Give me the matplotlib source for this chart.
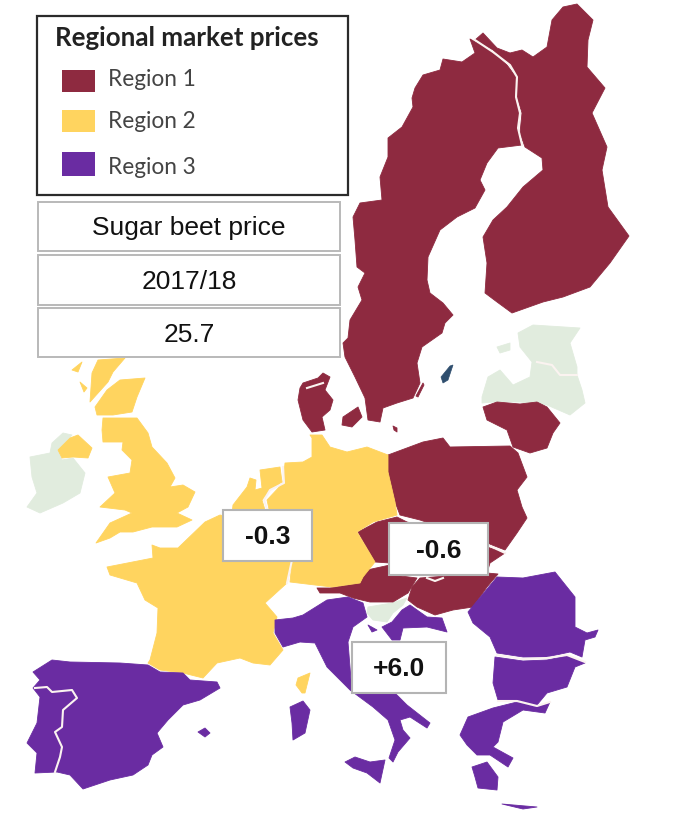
import matplotlib
matplotlib.use("Agg")
import matplotlib.pyplot as plt
from matplotlib.patches import Polygon, Rectangle

# Outlines (image pixel units)
sweden = [(470,39),(475,53),(462,62),(443,59),(440,70),(423,75),(415,88),(412,98),(413,107),(402,127),(388,138),(388,157),(380,177),(382,200),(360,203),(353,217),(355,240),(357,267),(365,273),(358,287),(362,300),(350,320),(348,338),(343,343),(345,357),(355,377),(365,398),(368,420),(380,422),(383,408),(397,403),(413,398),(420,383),(417,363),(422,347),(442,333),(445,323),(453,315),(443,303),(430,293),(427,280),(428,257),(440,230),(457,217),(475,208),(485,190),(480,180),(487,163),(498,148),(522,145),(518,128),(520,113),(515,97),(516,77),(507,65),(490,50)]
finland = [(475,40),(483,33),(497,48),(510,53),(522,50),(533,57),(547,47),(552,20),(563,7),(577,4),(593,20),(588,40),(587,67),(605,88),(592,113),(607,147),(602,170),(608,207),(629,236),(610,263),(590,287),(563,297),(543,302),(512,313),(497,302),(485,293),(487,263),(483,237),(493,220),(507,207),(523,187),(543,170),(542,158),(525,147),(520,133),(522,113),(517,97),(517,77),(510,65),(493,50)]
jutland = [(300,388),(303,383),(318,378),(323,373),(330,377),(325,390),(333,400),(330,410),(322,417),(325,430),(312,432),(303,420),(298,400)]
zealand = [(343,417),(358,407),(362,417),(352,427),(342,425)]
bornholm = [(393,426),(397,428),(397,432),(394,430)]
oland = [(423,383),(424,385),(418,397),(416,396)]
lithuania = [(483,407),(497,402),(520,404),(537,402),(547,407),(560,423),(553,433),(547,448),(530,453),(513,447),(507,430),(487,420)]
poland = [(388,455),(423,442),(443,438),(450,447),(510,446),(518,453),(527,477),(517,490),(522,507),(527,518),(517,533),(505,550),(487,543),(420,520),(400,515),(395,502),(388,472)]
czechia = [(358,532),(377,522),(397,517),(407,522),(440,530),(440,560),(390,563),(375,562)]
slovakia = [(440,525),(487,547),(505,553),(490,563),(487,573),(440,575)]
hungary = [(412,587),(420,578),(487,573),(498,574),(487,587),(473,607),(453,610),(435,615),(417,607),(408,600)]
austria = [(317,588),(330,588),(360,583),(367,570),(390,565),(393,575),(417,578),(408,593),(393,602),(370,602),(353,598),(340,593),(320,593)]

scotland_north = [(98,360),(125,358),(113,372),(108,382),(90,402),(92,373)]
scotland = [(95,407),(107,390),(120,380),(145,378),(137,397),(132,412),(113,415),(97,415)]
england = [(103,418),(137,418),(148,433),(152,447),(167,463),(175,478),(170,487),(183,485),(195,492),(188,507),(177,513),(192,520),(177,527),(152,527),(133,532),(120,532),(110,538),(96,543),(110,523),(132,513),(125,510),(100,507),(115,493),(108,477),(130,473),(132,460),(122,450),(123,442),(103,442),(102,430)]
hebrides = [(72,370),(82,362),(78,372)]
skye = [(80,382),(87,388),(84,392)]
n_ireland = [(58,450),(70,438),(78,435),(92,448),(88,458),(73,457),(62,458)]
france = [(107,567),(153,558),(152,545),(160,548),(178,548),(205,522),(220,515),(273,527),(292,563),(287,583),(265,603),(277,617),(273,633),(283,650),(270,665),(253,663),(240,658),(217,663),(203,678),(183,673),(160,670),(148,663),(150,660),(157,633),(158,608),(145,600),(137,583),(110,575)]
germany = [(310,435),(322,435),(330,447),(347,452),(367,447),(388,455),(388,472),(395,502),(397,515),(373,522),(357,532),(375,562),(363,577),(360,583),(332,587),(315,585),(290,582),(292,563),(273,527),(267,500),(283,483),(285,463),(303,462),(312,457),(312,438)]
benelux = [(233,505),(247,487),(250,478),(256,480),(255,490),(262,488),(260,470),(280,467),(282,482),(270,490),(262,500),(265,510),(270,530),(230,530)]
corsica = [(298,678),(310,673),(305,693),(302,693),(296,685)]

italy = [(275,620),(293,618),(303,615),(327,600),(348,597),(363,603),(367,617),(353,627),(348,642),(352,692),(395,693),(407,705),(430,723),(427,728),(410,717),(400,720),(403,730),(410,738),(398,752),(393,762),(389,758),(395,740),(388,720),(373,707),(350,690),(327,667),(315,643),(300,642),(283,647),(275,633)]
sicily = [(345,762),(355,757),(370,762),(385,760),(380,783),(367,773),(353,768)]
sardinia = [(290,707),(303,701),(310,710),(305,733),(293,740),(292,723)]
croatia = [(402,610),(410,605),(427,617),(442,618),(447,632),(427,627),(403,628),(400,640),(392,640),(382,627),(392,622)]
istria = [(368,625),(377,630),(372,632)]
romania = [(468,612),(497,577),(523,578),(555,572),(575,597),(575,627),(587,633),(598,630),(595,637),(585,640),(582,657),(570,652),(547,657),(523,657),(497,653),(490,637),(473,623)]
bulgaria = [(495,657),(523,661),(547,660),(567,656),(585,663),(575,667),(567,687),(547,693),(537,705),(517,700),(498,700),(493,683)]
greece = [(460,735),(468,717),(493,708),(517,702),(537,707),(550,702),(545,713),(523,710),(503,722),(498,742),(493,747),(513,758),(508,767),(490,755),(477,755),(467,745)]
peloponnese = [(472,767),(487,762),(498,777),(497,790),(478,788),(475,777)]
crete = [(502,804),(537,807),(523,809)]
iberia = [(33,672),(52,660),(70,662),(120,663),(148,665),(160,672),(183,673),(190,680),(217,682),(220,688),(200,700),(183,705),(168,720),(157,733),(163,747),(152,755),(148,765),(133,775),(110,780),(83,789),(70,775),(57,772),(35,773),(37,753),(27,743),(37,723),(40,697),(33,688),(40,680)]
mallorca = [(198,732),(205,728),(210,733),(205,737)]

baltics = [(518,333),(533,325),(580,328),(570,343),(577,367),(577,375),(582,390),(585,403),(570,415),(547,405),(520,402),(493,402),(482,403),(482,397),(488,377),(500,370),(513,385),(530,377),(532,362),(520,347)]
saaremaa = [(497,347),(510,343),(510,350),(500,353)]
ireland = [(30,457),(50,453),(52,443),(63,433),(72,435),(58,450),(62,460),(73,458),(85,473),(80,493),(63,503),(40,513),(27,507),(37,493),(32,477)]
slovenia = [(368,607),(392,603),(407,598),(403,605),(393,613),(387,622),(373,620),(367,613)]
gotland = [(441,377),(450,366),(453,365),(448,380),(443,383)]

finland_border = [(475,40),(493,52),(510,65),(517,77),(516,97),(520,113),(518,128),(522,145)]
portugal_border = [(35,688),(47,687),(52,692),(72,690),(77,698),(63,710),(62,727),(55,732),(62,747),(60,757),(55,772)]
netherlands_border = [(283,467),(284,483),(270,490),(264,500),(268,512)]
france_border = [(292,560),(287,583)]
baltic_border = [(537,362),(552,365),(560,375),(577,375)]
poland_border = [(488,545),(505,553)]
romania_border = [(497,655),(523,659),(547,658),(567,655),(585,662)]
bulgaria_border = [(498,701),(517,701),(537,706),(550,702)]
arc_border = [(427,578),(435,581),(443,578)]
jutland_border = [(307,388),(323,383)]

REGION_1 = [sweden, finland, jutland, zealand, bornholm, oland, lithuania, poland, czechia, slovakia, hungary, austria]
REGION_2 = [scotland_north, scotland, england, hebrides, skye, n_ireland, france, germany, benelux, corsica]
REGION_3 = [italy, sicily, sardinia, croatia, istria, romania, bulgaria, greece, peloponnese, crete, iberia, mallorca]
OTHER = [baltics, saaremaa, ireland, slovenia]
BORDERS = [finland_border, portugal_border, netherlands_border, france_border, baltic_border,
           poland_border, romania_border, bulgaria_border, arc_border, jutland_border]

legend_title = "Regional market prices"
legend_labels = ["Region 1", "Region 2", "Region 3"]
info_labels = ["Sugar beet price", "2017/18", "25.7"]
change_labels = ["-0.3", "-0.6", "+6.0"]

C1, C2, C3, C0, CW = "#8E2A40", "#FFD45F", "#6A2CA2", "#E1ECDE", "#2F4E6E"

fig = plt.figure(figsize=(6.74, 8.25), dpi=100)
ax = fig.add_axes([0, 0, 1, 1])
ax.set_xlim(0, 674)
ax.set_ylim(825, 0)
ax.axis("off")

for group, col in [(OTHER, C0), (REGION_1, C1), (REGION_2, C2), (REGION_3, C3)]:
    for shape in group:
        ax.add_patch(Polygon(shape, closed=True, fc=col, ec=col, lw=0.6, zorder=2, joinstyle="round"))
ax.add_patch(Polygon(gotland, closed=True, fc=CW, ec=CW, lw=0.5, zorder=2))
for b in BORDERS:
    ax.plot(*zip(*b), color="#FBF3F0", lw=1.5, zorder=3, solid_joinstyle="round")

# Legend panel
ax.add_patch(Rectangle((37, 16), 311, 179, fc="white", ec="#2B2B2B", lw=1.6, zorder=5))
ax.text(55, 38, legend_title, family="Lato", weight="bold", fontsize=18.6, color="#222222",
        va="center", ha="left", zorder=6)
for lab, col, (y0, h), yt in zip(legend_labels, [C1, C2, C3], [(70, 22), (110, 22), (152, 24)], [80, 122, 168]):
    ax.add_patch(Rectangle((62, y0), 33, h, fc=col, ec="none", zorder=6))
    ax.text(108, yt, lab, family="Lato", fontsize=16.3, color="#444444", va="center", ha="left", zorder=6)

# Information boxes
for lab, (y0, y1) in zip(info_labels, [(202, 251), (255, 305), (308, 357)]):
    ax.add_patch(Rectangle((38, y0), 302, y1 - y0, fc="white", ec="#B9B9B9", lw=1.4, zorder=5))
    ax.text(189, (y0 + y1) / 2 + 2, lab, family="Liberation Sans", fontsize=19, color="#111111",
            ha="center", va="center", zorder=6)

# Price change boxes
for lab, (x0, y0, x1, y1) in zip(change_labels, [(223, 510, 312, 561), (389, 523, 488, 575), (352, 642, 446, 693)]):
    ax.add_patch(Rectangle((x0, y0), x1 - x0, y1 - y0, fc="white", ec="#B4B4B4", lw=1.5, zorder=5))
    ax.text((x0 + x1) / 2, (y0 + y1) / 2 + 2, lab, family="Liberation Sans", weight="bold", fontsize=19,
            color="#111111", ha="center", va="center", zorder=6)

fig.savefig("out.png", dpi=100)
